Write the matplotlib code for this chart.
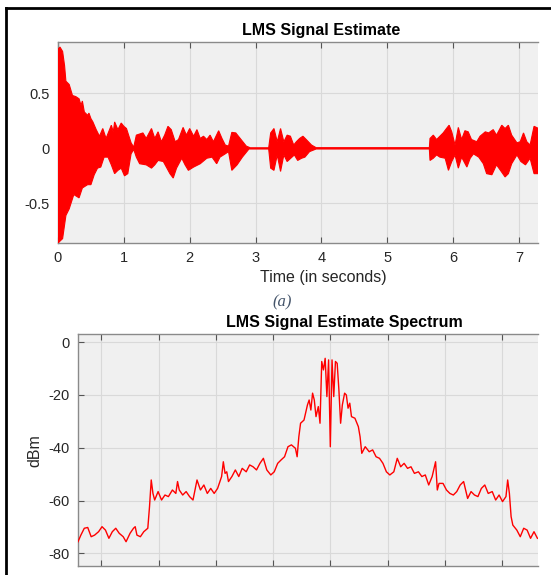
import numpy as np
import matplotlib
matplotlib.use("Agg")
import matplotlib.pyplot as plt
from matplotlib.lines import Line2D

plt.rcParams['font.family'] = ['Liberation Sans', 'DejaVu Sans']
plt.rcParams['axes.unicode_minus'] = False

# ---------------- data: LMS signal estimate (waveform envelope) ----------------
t_upper = [0.00, 0.03, 0.07, 0.10, 0.12, 0.17, 0.20, 0.22, 0.27, 0.32, 0.35, 0.37, 0.40,
           0.45, 0.47, 0.50, 0.53, 0.58, 0.63, 0.68, 0.73, 0.81, 0.84, 0.86, 0.91, 0.96,
           1.00, 1.04, 1.11, 1.15, 1.19, 1.24, 1.29, 1.34, 1.42, 1.47, 1.52, 1.57, 1.62,
           1.67, 1.72, 1.78, 1.83, 1.90, 1.95, 2.00, 2.06, 2.11, 2.16, 2.21, 2.26, 2.31,
           2.36, 2.44, 2.49, 2.54, 2.59, 2.64, 2.70, 2.78, 2.86, 2.92, 3.20, 3.23, 3.28,
           3.33, 3.38, 3.43, 3.48, 3.53, 3.58, 3.62, 3.67, 3.72, 3.77, 3.85, 3.92, 5.64,
           5.65, 5.70, 5.75, 5.80, 5.85, 5.90, 5.94, 5.98, 6.03, 6.08, 6.13, 6.18, 6.23,
           6.28, 6.36, 6.41, 6.49, 6.54, 6.61, 6.66, 6.74, 6.79, 6.84, 6.89, 6.97, 7.02,
           7.07, 7.12, 7.17, 7.23, 7.30]
upper = [0.90, 0.92, 0.88, 0.75, 0.61, 0.58, 0.52, 0.48, 0.47, 0.45, 0.39, 0.43, 0.33,
         0.30, 0.32, 0.27, 0.24, 0.17, 0.11, 0.18, 0.09, 0.21, 0.15, 0.24, 0.17, 0.23,
         0.20, 0.18, 0.05, 0.01, 0.12, 0.13, 0.14, 0.09, 0.18, 0.09, 0.15, 0.06, 0.12,
         0.20, 0.17, 0.06, 0.08, 0.19, 0.12, 0.18, 0.11, 0.17, 0.09, 0.11, 0.08, 0.12,
         0.06, 0.16, 0.09, 0.03, 0.02, 0.145, 0.14, 0.08, 0.02, 0.005, 0.005, 0.14, 0.18,
         0.06, 0.18, 0.06, 0.12, 0.11, 0.03, 0.06, 0.09, 0.11, 0.08, 0.03, 0.006, 0.006,
         0.09, 0.12, 0.08, 0.11, 0.14, 0.18, 0.21, 0.15, 0.03, 0.19, 0.08, 0.16, 0.15,
         0.08, 0.06, 0.11, 0.15, 0.14, 0.17, 0.12, 0.21, 0.18, 0.21, 0.12, 0.05, 0.06,
         0.14, 0.06, 0.03, 0.20, 0.18]

t_lower = [0.00, 0.07, 0.12, 0.17, 0.24, 0.32, 0.37, 0.45, 0.50, 0.55, 0.60, 0.65, 0.70,
           0.76, 0.81, 0.86, 0.91, 0.96, 1.01, 1.06, 1.11, 1.15, 1.19, 1.24, 1.34, 1.42,
           1.47, 1.52, 1.60, 1.70, 1.75, 1.80, 1.88, 1.93, 1.98, 2.06, 2.16, 2.26, 2.34,
           2.41, 2.46, 2.54, 2.59, 2.64, 2.72, 2.80, 2.90, 3.20, 3.23, 3.28, 3.33, 3.38,
           3.43, 3.48, 3.59, 3.64, 3.70, 3.75, 3.82, 3.92, 5.64, 5.65, 5.70, 5.75, 5.80,
           5.88, 5.93, 5.98, 6.03, 6.08, 6.13, 6.21, 6.26, 6.31, 6.39, 6.46, 6.51, 6.59,
           6.66, 6.72, 6.79, 6.84, 6.89, 6.97, 7.03, 7.10, 7.17, 7.23, 7.30]
lower = [-0.86, -0.82, -0.61, -0.55, -0.42, -0.45, -0.36, -0.33, -0.33, -0.24, -0.18,
         -0.17, -0.08, -0.08, -0.15, -0.23, -0.20, -0.18, -0.25, -0.23, -0.05, -0.01,
         -0.08, -0.14, -0.15, -0.18, -0.15, -0.11, -0.12, -0.23, -0.27, -0.18, -0.09,
         -0.15, -0.20, -0.17, -0.14, -0.09, -0.08, -0.14, -0.08, -0.05, -0.03, -0.20,
         -0.15, -0.08, -0.006, -0.006, -0.18, -0.20, -0.06, -0.21, -0.06, -0.12, -0.06,
         -0.11, -0.09, -0.08, -0.03, -0.006, -0.006, -0.11, -0.09, -0.06, -0.08, -0.09,
         -0.20, -0.12, -0.06, -0.18, -0.08, -0.17, -0.09, -0.05, -0.08, -0.14, -0.23,
         -0.24, -0.15, -0.20, -0.26, -0.23, -0.14, -0.06, -0.12, -0.15, -0.09, -0.23,
         -0.23]

time_ticks = [0, 1, 2, 3, 4, 5, 6, 7]
amp_ticks = [-0.5, 0, 0.5]
amp_tick_labels = ['-0.5', '0', '0.5']

# ---------------- data: LMS signal estimate spectrum ----------------
freq = [-4.41, -4.36, -4.30, -4.24, -4.18, -4.12, -4.05, -3.99, -3.93, -3.87, -3.81,
        -3.75, -3.69, -3.62, -3.57, -3.50, -3.44, -3.41, -3.38, -3.32, -3.26, -3.19,
        -3.16, -3.13, -3.10, -3.07, -3.01, -2.95, -2.89, -2.83, -2.76, -2.70, -2.67,
        -2.64, -2.58, -2.52, -2.46, -2.40, -2.33, -2.27, -2.21, -2.15, -2.09, -2.03,
        -1.97, -1.90, -1.87, -1.84, -1.81, -1.78, -1.72, -1.66, -1.60, -1.54, -1.47,
        -1.41, -1.35, -1.29, -1.23, -1.17, -1.11, -1.04, -0.98, -0.92, -0.86, -0.80,
        -0.74, -0.68, -0.61, -0.58, -0.55, -0.52, -0.46, -0.40, -0.37, -0.34, -0.31,
        -0.28, -0.25, -0.21, -0.18, -0.15, -0.12, -0.09, -0.06, -0.03, 0.00, 0.03,
        0.06, 0.09, 0.12, 0.15, 0.18, 0.21, 0.25, 0.28, 0.31, 0.34, 0.37, 0.43, 0.49,
        0.52, 0.55, 0.61, 0.68, 0.74, 0.80, 0.86, 0.92, 0.98, 1.04, 1.11, 1.17, 1.23,
        1.29, 1.35, 1.41, 1.47, 1.54, 1.60, 1.66, 1.72, 1.78, 1.84, 1.87, 1.90, 1.97,
        2.03, 2.09, 2.15, 2.21, 2.27, 2.33, 2.40, 2.46, 2.52, 2.58, 2.64, 2.70, 2.76,
        2.83, 2.89, 2.95, 3.01, 3.07, 3.10, 3.13, 3.16, 3.19, 3.26, 3.32, 3.38, 3.44,
        3.50, 3.56, 3.62]
power_dbm = [-75.6, -73.1, -70.5, -70.2, -73.7, -73.1, -71.8, -69.9, -71.2, -74.3, -71.8,
             -70.5, -72.4, -73.7, -75.6, -72.4, -70.5, -69.9, -73.1, -73.7, -71.8, -70.5,
             -62.3, -52.2, -57.3, -59.8, -56.6, -59.8, -57.9, -58.5, -56.0, -57.3, -52.8,
             -56.0, -57.9, -56.6, -58.5, -59.8, -52.2, -56.0, -54.1, -57.3, -55.4, -57.3,
             -55.4, -50.9, -45.3, -49.7, -49.1, -52.8, -50.9, -48.4, -50.9, -47.8, -49.1,
             -46.5, -47.2, -48.4, -45.9, -44.0, -48.4, -50.3, -49.1, -45.9, -44.6, -43.4,
             -39.6, -38.9, -40.2, -43.4, -35.8, -30.7, -29.5, -23.8, -21.9, -25.7, -19.3,
             -21.9, -28.2, -24.4, -30.7, -7.3, -10.5, -6.1, -20.6, -6.7, -39.6, -6.7,
             -20.6, -7.3, -8.0, -18.1, -30.7, -23.8, -19.3, -20.0, -25.0, -23.1, -28.2,
             -28.8, -32.0, -35.8, -42.1, -39.6, -41.5, -40.8, -43.4, -44.0, -45.9, -49.1,
             -50.3, -49.1, -44.0, -47.2, -45.9, -47.8, -47.2, -49.7, -49.1, -50.9, -50.3,
             -54.1, -50.9, -45.3, -56.0, -53.5, -53.5, -56.0, -57.3, -57.9, -56.6, -54.1,
             -52.8, -59.2, -56.6, -57.9, -58.5, -55.4, -54.1, -57.3, -56.6, -59.8, -57.9,
             -60.4, -58.5, -52.2, -57.3, -66.1, -69.3, -71.2, -73.7, -70.5, -71.2, -74.3,
             -71.8, -74.3]

freq_ticks = [-4, -3, -2, -1, 0, 1, 2, 3]
dbm_ticks = [-80, -60, -40, -20, 0]

# ---------------- styling ----------------
W, H = 551, 575
fig = plt.figure(figsize=(W / 100, H / 100), dpi=100)
fig.patch.set_facecolor('white')

BG = '#F0F0F0'
SPINE = '#8a8a8a'
TXT = '#262626'
GRID = '#d9d9d9'
RED = '#FF0000'


def px_axes(l, t, r, b):
    return fig.add_axes([l / W, 1 - b / H, (r - l) / W, (b - t) / H])


def style(ax):
    ax.set_facecolor(BG)
    for s in ['left', 'bottom', 'top']:
        ax.spines[s].set_color(SPINE)
        ax.spines[s].set_linewidth(1.0)
    ax.spines['right'].set_visible(False)
    ax.tick_params(direction='in', length=4, width=0.8, color='#555555',
                   labelsize=10.5, labelcolor=TXT, top=True, right=False, pad=6)
    ax.grid(True, color=GRID, linewidth=0.8)
    ax.set_axisbelow(True)


# top axes
ax1 = px_axes(58, 42, 538, 243)
style(ax1)
ax1.fill(np.r_[t_upper, t_lower[::-1]], np.r_[upper, lower[::-1]],
         color=RED, edgecolor=RED, linewidth=0.8, zorder=3)
ax1.set_xlim(0, 7.29)
ax1.set_ylim(-0.86, 0.966)
ax1.set_xticks(time_ticks)
ax1.set_yticks(amp_ticks)
ax1.set_yticklabels(amp_tick_labels)
ax1.text(0.548, 1.02, 'LMS Signal Estimate', transform=ax1.transAxes,
         ha='center', va='bottom', fontsize=11.5, fontweight='bold', color='black')
fig.text(323 / W, 1 - 278 / H, 'Time (in seconds)', ha='center', va='center',
         fontsize=11.5, color=TXT)

# caption
fig.text(282 / W, 1 - 302 / H, '(a)', ha='center', va='center', fontsize=12,
         style='italic', family=['Liberation Serif', 'DejaVu Serif'], color='#44546A')

# bottom axes
ax2 = px_axes(78, 334.3, 538, 566)
style(ax2)
ax2.plot(freq, power_dbm, color=RED, linewidth=1.0, zorder=3)
ax2.set_xlim(-4.41, 3.63)
ax2.set_ylim(-84.8, 3.0)
ax2.set_xticks(freq_ticks)
ax2.set_xticklabels([])
ax2.set_yticks(dbm_ticks)
ax2.set_ylabel('dBm', fontsize=11.5, color=TXT, labelpad=4)
ax2.text((344 - 78) / 460, 1.02, 'LMS Signal Estimate Spectrum', transform=ax2.transAxes,
         ha='center', va='bottom', fontsize=11.5, fontweight='bold', color='black')

# document frame lines
fig.add_artist(Line2D([6 / W, 1.0], [1 - 8 / H, 1 - 8 / H], color='black', linewidth=2.0,
                      transform=fig.transFigure))
fig.add_artist(Line2D([6 / W, 6 / W], [1 - 8 / H, 0.0], color='black', linewidth=2.0,
                      transform=fig.transFigure))

fig.savefig('out.png', dpi=100, facecolor='white')
